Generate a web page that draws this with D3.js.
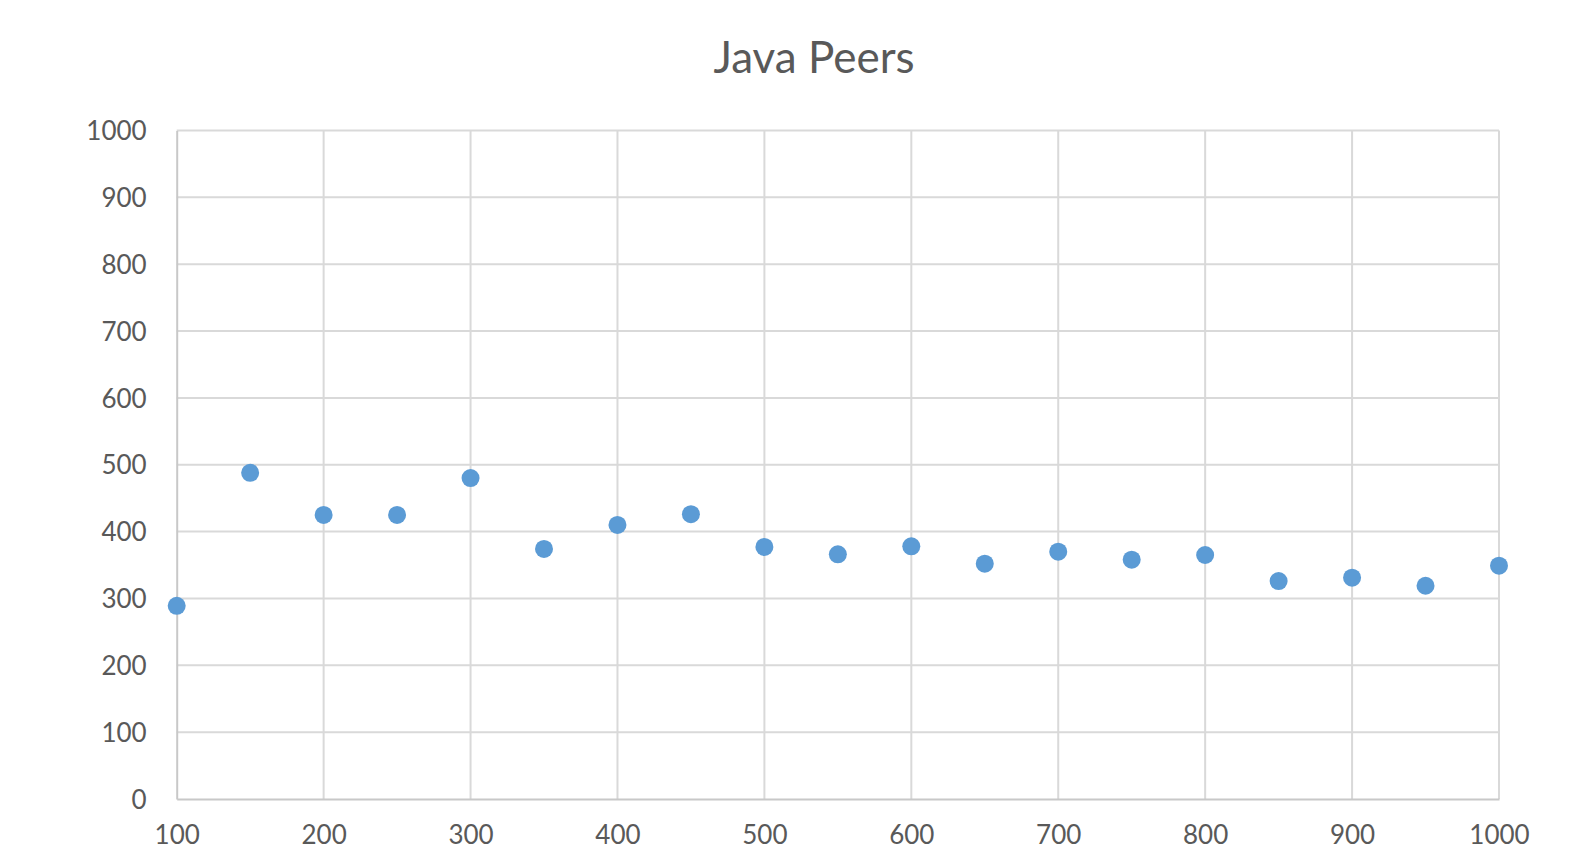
<!DOCTYPE html>
<html>
<head>
<meta charset="utf-8">
<script src="https://cdn.jsdelivr.net/npm/d3@7"></script>
<style>
  html, body { margin: 0; padding: 0; background: #fff; overflow: hidden; }
  svg { display: block; }
  text { font-family: Lato, "Open Sans", sans-serif; fill: #595959; }
</style>
</head>
<body>
<svg id="chart" width="1581" height="850"></svg>
<script>
// Peer counts per run size
const title = "Java Peers";
const xValues = [100, 150, 200, 250, 300, 350, 400, 450, 500, 550, 600, 650, 700, 750, 800, 850, 900, 950, 1000];
const yValues = [289, 488, 425, 425, 480, 374, 410, 426, 377, 366, 378, 352, 370, 358, 365, 326, 331, 319, 349];
const xTicks = [100, 200, 300, 400, 500, 600, 700, 800, 900, 1000];
const yTicks = [0, 100, 200, 300, 400, 500, 600, 700, 800, 900, 1000];

const svg = d3.select("#chart");
const plot = { left: 176.7, right: 1499, top: 130.5, bottom: 799 };

const x = d3.scaleLinear().domain([100, 1000]).range([plot.left, plot.right]);
const y = d3.scaleLinear().domain([0, 1000]).range([plot.bottom, plot.top]);

// Gridlines
const grid = svg.append("g").attr("stroke", "#d9d9d9").attr("stroke-width", 2);
grid.selectAll("line.h").data(yTicks.filter(d => d > 0)).join("line")
  .attr("x1", plot.left).attr("x2", plot.right)
  .attr("y1", d => y(d)).attr("y2", d => y(d));
grid.selectAll("line.v").data(xTicks.filter(d => d > 100)).join("line")
  .attr("y1", plot.top).attr("y2", plot.bottom)
  .attr("x1", d => x(d)).attr("x2", d => x(d));

// Axes
const yAxis = d3.axisLeft(y).tickValues(yTicks).tickSize(0).tickPadding(30).tickFormat(d3.format("d"));
const xAxis = d3.axisBottom(x).tickValues(xTicks).tickSize(0).tickPadding(26).tickFormat(d3.format("d"));

const gy = svg.append("g").attr("transform", `translate(${plot.left},0)`).call(yAxis);
const gx = svg.append("g").attr("transform", `translate(0,${plot.bottom})`).call(xAxis);

[gx, gy].forEach(g => {
  g.select(".domain").attr("stroke", "#c8c8c8").attr("stroke-width", 2);
  g.selectAll("text").attr("font-size", 26).attr("fill", "#595959")
    .style("font-family", "Lato, 'Open Sans', sans-serif");
});
gy.selectAll("text").attr("dy", "0.35em");
gx.selectAll("text").attr("dy", "0.72em");

// Points
svg.append("g").selectAll("circle")
  .data(xValues.map((v, i) => [v, yValues[i]]))
  .join("circle")
  .attr("cx", d => x(d[0]))
  .attr("cy", d => y(d[1]))
  .attr("r", 9)
  .attr("fill", "#5b9bd5");

// Title
svg.append("text")
  .attr("x", 814).attr("y", 73)
  .attr("text-anchor", "middle")
  .attr("font-size", 44)
  .text(title);
</script>
</body>
</html>
